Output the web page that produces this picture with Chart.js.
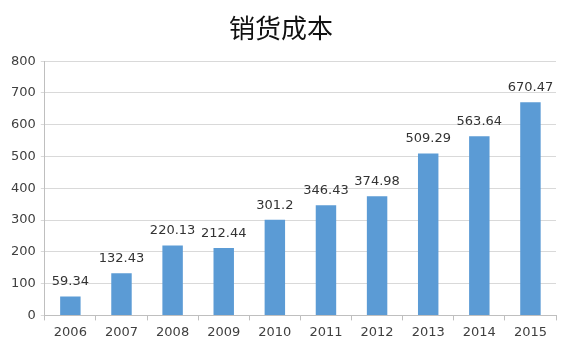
<!DOCTYPE html>
<html>
<head>
<meta charset="utf-8">
<script src="https://cdn.jsdelivr.net/npm/chart.js@4/dist/chart.umd.min.js"></script>
<style>
  html, body { margin: 0; padding: 0; background: #fff; }
  #wrap { width: 569px; height: 351px; position: relative; }
</style>
</head>
<body>
<div id="wrap"><canvas id="chart"></canvas></div>
<script>
const years = ['2006', '2007', '2008', '2009', '2010', '2011', '2012', '2013', '2014', '2015'];
const costValues = [59.34, 132.43, 220.13, 212.44, 301.2, 346.43, 374.98, 509.29, 563.64, 670.47];
const costLabels = ['59.34', '132.43', '220.13', '212.44', '301.2', '346.43', '374.98', '509.29', '563.64', '670.47'];

// draws the value above each bar
const barLabels = {
    id: 'barLabels',
    afterDatasetsDraw(chart) {
        const ctx = chart.ctx;
        const meta = chart.getDatasetMeta(0);
        ctx.save();
        ctx.font = '13px "DejaVu Sans", sans-serif';
        ctx.fillStyle = '#333';
        ctx.textAlign = 'center';
        ctx.textBaseline = 'bottom';
        meta.data.forEach((bar, i) => {
            ctx.fillText(costLabels[i], bar.x, bar.y - 8);
        });
        ctx.restore();
    }
};

new Chart(document.getElementById('chart'), {
    type: 'bar',
    data: {
        labels: years,
        datasets: [{
            data: costValues,
            backgroundColor: '#5b9bd5',
            barPercentage: 0.4,
            categoryPercentage: 1
        }]
    },
    options: {
        responsive: true,
        maintainAspectRatio: false,
        animation: false,
        layout: { padding: { left: 6, right: 13, top: 8, bottom: 7 } },
        plugins: {
            legend: { display: false },
            tooltip: { enabled: false },
            title: {
                display: true,
                text: '销货成本',
                color: '#111',
                font: { family: '"Noto Sans CJK SC", sans-serif', size: 26, weight: 'normal' },
                padding: { top: 5, bottom: 17 }
            }
        },
        scales: {
            x: {
                grid: {
                    display: true,
                    drawOnChartArea: false,
                    offset: true,
                    tickLength: 5,
                    color: '#bfbfbf'
                },
                border: { color: '#bfbfbf' },
                ticks: {
                    color: '#404040',
                    font: { family: '"DejaVu Sans", sans-serif', size: 13 },
                    padding: 4
                }
            },
            y: {
                min: 0,
                max: 800,
                ticks: {
                    stepSize: 100,
                    color: '#404040',
                    font: { family: '"DejaVu Sans", sans-serif', size: 13 },
                    padding: 5
                },
                grid: { color: '#d9d9d9', tickLength: 4 },
                border: { color: '#bfbfbf' }
            }
        }
    },
    plugins: [barLabels]
});
</script>
</body>
</html>
